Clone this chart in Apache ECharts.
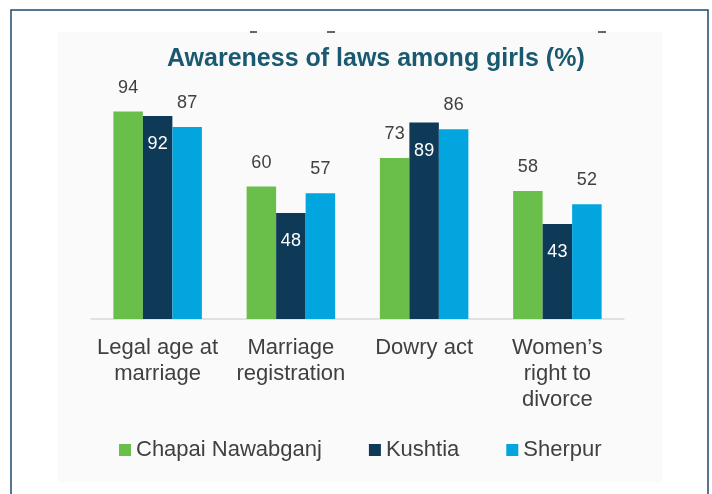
<!DOCTYPE html>
<html>
<head>
<meta charset="utf-8">
<script src="https://cdn.jsdelivr.net/npm/echarts@6/dist/echarts.min.js"></script>
<style>
  html, body { margin: 0; padding: 0; background: #fff; }
  #chart { width: 712px; height: 494px; }
</style>
</head>
<body>
<div id="chart"></div>
<script>
// data
const categories = ["Legal age at\nmarriage", "Marriage\nregistration", "Dowry act", "Women\u2019s\nright to\ndivorce"];
const seriesNames = ["Chapai Nawabganj", "Kushtia", "Sherpur"];
const chapai = [94, 60, 73, 58];
const kushtia = [92, 48, 89, 43];
const sherpur = [87, 57, 86, 52];

const font = "'Liberation Sans', Arial, sans-serif";
const colors = ["#6abf4b", "#0e3a57", "#03a5de"];

// outside labels (green, light blue) and inside label (navy)
function outsideLabel() {
  return { show: true, position: "top", distance: 15, color: "#404040", fontSize: 18, fontFamily: font };
}

const chart = echarts.init(document.getElementById("chart"));
const option = {
  backgroundColor: "#fff",
  animation: false,
  title: {
    text: "Awareness of laws among girls (%)",
    left: 162,
    top: 42,
    textStyle: { color: "#1a5a70", fontSize: 25, fontWeight: "bold", fontFamily: font }
  },
  graphic: [
    // faint panel and outer frame
    { type: "rect", z: -10, shape: { x: 58, y: 32, width: 604, height: 450 }, style: { fill: "#fafafa" } },
    { type: "rect", z: -5, shape: { x: 11, y: 10, width: 697, height: 500 }, style: { fill: "none", stroke: "#1b4a72", lineWidth: 1.5 } },
    { type: "line", shape: { x1: 250, y1: 32, x2: 257, y2: 32 }, style: { stroke: "#333", lineWidth: 1.5 } },
    { type: "line", shape: { x1: 327, y1: 32, x2: 335, y2: 32 }, style: { stroke: "#333", lineWidth: 1.5 } },
    { type: "line", shape: { x1: 598, y1: 32, x2: 606, y2: 32 }, style: { stroke: "#333", lineWidth: 1.5 } }
  ],
  legend: {
    data: seriesNames,
    left: 114,
    top: 434,
    itemWidth: 12,
    itemHeight: 12,
    itemGap: 47,
    icon: "rect",
    textStyle: { color: "#404040", fontSize: 22, fontFamily: font }
  },
  grid: { left: 91, right: 88, top: 98.3, bottom: 175, containLabel: false },
  xAxis: {
    type: "category",
    data: categories,
    axisLine: { lineStyle: { color: "#d9d9d9", width: 1.5 } },
    axisTick: { show: false },
    axisLabel: { color: "#404040", fontSize: 22, fontFamily: font, lineHeight: 26, margin: 16, interval: 0 }
  },
  yAxis: {
    type: "value",
    min: 0,
    max: 100,
    show: false,
    splitLine: { show: false }
  },
  series: [
    {
      name: seriesNames[0], type: "bar", data: chapai, barWidth: 29.5, barGap: "0%",
      itemStyle: { color: colors[0] }, label: outsideLabel()
    },
    {
      name: seriesNames[1], type: "bar", data: kushtia, barWidth: 29.5, barGap: "0%",
      itemStyle: { color: colors[1] },
      label: { show: true, position: "insideTop", distance: 19, color: "#fff", fontSize: 18, fontFamily: font }
    },
    {
      name: seriesNames[2], type: "bar", data: sherpur, barWidth: 29.5, barGap: "0%",
      itemStyle: { color: colors[2] }, label: outsideLabel()
    }
  ]
};
chart.setOption(option);
</script>
</body>
</html>
